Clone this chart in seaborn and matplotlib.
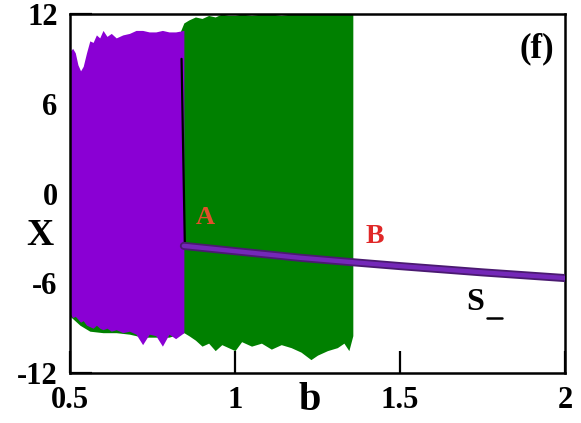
import numpy as np
import pandas as pd
import matplotlib
matplotlib.use("Agg")
import matplotlib.pyplot as plt
import seaborn as sns

# ---- data ----
# purple chaotic band (envelopes)
purple_b = [0.500, 0.508, 0.516, 0.524, 0.532, 0.540, 0.550, 0.560, 0.570, 0.580,
            0.590, 0.600, 0.612, 0.625, 0.640, 0.660, 0.680, 0.700, 0.720, 0.740,
            0.760, 0.780, 0.800, 0.820, 0.845]
purple_hi = [9.5, 9.7, 9.4, 8.6, 8.2, 8.5, 9.4, 10.2, 10.1, 10.6,
             10.4, 10.9, 10.5, 10.7, 10.4, 10.6, 10.7, 10.9, 10.9, 10.8,
             10.8, 10.9, 10.8, 10.8, 10.9]
purple_lo = [-8.0, -8.3, -8.2, -8.4, -8.6, -8.5, -8.8, -8.9, -9.0, -8.8,
             -9.0, -9.1, -9.0, -9.2, -9.1, -9.3, -9.2, -9.4, -10.1, -9.4,
             -9.5, -10.2, -9.4, -9.7, -9.3]

# green chaotic band (envelopes)
green_b = [0.500, 0.530, 0.560, 0.600, 0.640, 0.680, 0.720, 0.760, 0.800, 0.845,
           0.860, 0.880, 0.900, 0.920, 0.940, 0.960, 0.980, 1.000, 1.020, 1.050,
           1.080, 1.110, 1.140, 1.170, 1.200, 1.230, 1.250, 1.280, 1.310, 1.330,
           1.345, 1.357]
green_hi = [9.0, 8.0, 9.0, 9.0, 9.0, 9.0, 9.0, 9.0, 9.0, 11.4,
            11.6, 11.8, 11.7, 11.9, 11.8, 12.0, 11.9, 11.9, 12.0, 11.9,
            12.0, 12.0, 11.9, 12.0, 12.0, 12.0, 12.0, 12.0, 12.0, 12.0,
            12.0, 12.0]
green_lo = [-8.2, -8.8, -9.2, -9.3, -9.3, -9.4, -9.6, -9.6, -9.6, -9.3,
            -9.5, -9.8, -10.2, -10.0, -10.5, -10.1, -10.3, -10.5, -9.9, -10.2,
            -10.0, -10.4, -10.1, -10.3, -10.6, -11.1, -10.8, -10.5, -10.3, -10.0,
            -10.5, -9.5]

# stable branch S_
s_b = [0.845, 1.00, 1.20, 1.35, 1.50, 1.75, 2.00]
s_x = [-3.50, -3.85, -4.30, -4.58, -4.85, -5.27, -5.65]

# black jump line at the transition
jump_b = [0.838, 0.848]
jump_x = [9.0, -3.5]

xticks = [0.5, 1, 1.5, 2]
xticklabels = ["0.5", "1", "1.5", "2"]
yticks = [-12, -6, 0, 6, 12]
yticklabels = ["-12", "-6", "0", "6", "12"]

# ---- style ----
sns.set_theme(style="ticks")
plt.rcParams["font.family"] = ["Liberation Serif", "DejaVu Serif"]
plt.rcParams["font.weight"] = "bold"
plt.rcParams["text.color"] = "black"

fig = plt.figure(figsize=(5.81, 4.23), dpi=100)
ax = fig.add_axes([0.1205, 0.118, 0.852, 0.849])

PURPLE = "#8a00d4"
GREEN = "#008000"

ax.fill_between(green_b, green_lo, green_hi, color=GREEN, lw=0, zorder=1)
ax.fill_between(purple_b, purple_lo, purple_hi, color=PURPLE, lw=0, zorder=2)

sns.lineplot(x=jump_b, y=jump_x, ax=ax, color="black", lw=1.6, zorder=3,
             estimator=None, sort=False)
sns.lineplot(x=s_b, y=s_x, ax=ax, color="#4a1a70", lw=5.8, zorder=4,
             estimator=None, sort=False)
sns.lineplot(x=s_b, y=s_x, ax=ax, color="#7428b8", lw=3.2, zorder=5,
             estimator=None, sort=False)

ax.set_xlim(0.5, 2)
ax.set_ylim(-12, 12)
ax.set_xticks(xticks)
ax.set_xticklabels(xticklabels)
ax.set_yticks(yticks)
ax.set_yticklabels(yticklabels)
ax.tick_params(direction="in", length=16, width=1.6, labelsize=22,
               colors="black")
ax.tick_params(axis="x", pad=9)
ax.tick_params(axis="y", pad=9)
for lab in ax.get_xticklabels() + ax.get_yticklabels():
    lab.set_fontweight("bold")
for sp in ax.spines.values():
    sp.set_linewidth(1.8)
    sp.set_color("black")

ax.set_xlabel("")
ax.set_ylabel("")
fig.text(40 / 581, 1 - 235 / 423, "X", fontsize=27, fontweight="bold",
         color="black", ha="center", va="center")
fig.text(310 / 581, 1 - 400 / 423, "b", fontsize=29, fontweight="bold",
         color="black", ha="center", va="center")

ax.text(0.909, -1.6, "A", color="#e0502a", fontsize=19, fontweight="bold",
        ha="center", va="center", zorder=6)
ax.text(1.424, -2.9, "B", color="#e02828", fontsize=20, fontweight="bold",
        ha="center", va="center", zorder=6)
ax.text(1.727, -7.25, "S", color="black", fontsize=23, fontweight="bold",
        ha="center", va="center", zorder=6)
ax.plot([1.765, 1.810], [-8.35, -8.35], color="black", lw=1.8, zorder=6)
ax.text(1.915, 9.7, "(f)", color="black", fontsize=25, fontweight="bold",
        ha="center", va="center", zorder=6)

fig.savefig("out.png", dpi=100)
